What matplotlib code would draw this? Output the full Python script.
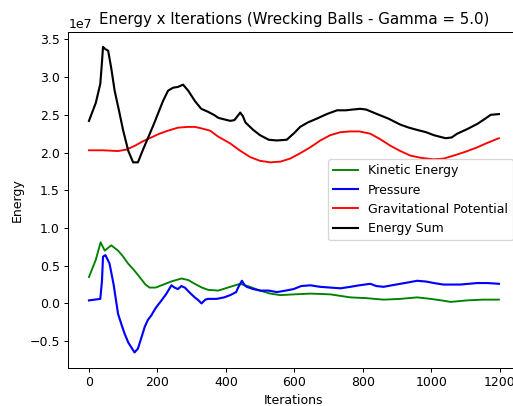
import matplotlib
matplotlib.use("Agg")
import matplotlib.pyplot as plt
import numpy as np

# Energy curves (units of 1e7) sampled at the listed iterations
kin_iter = [0, 20, 34, 46, 65, 85, 100, 114, 130, 148, 165, 177, 195, 212, 240, 270,
            290, 309, 330, 348, 378, 413, 442, 470, 500, 530, 559, 600, 647, 705,
            764, 810, 861, 910, 959, 998, 1030, 1057, 1105, 1150, 1198]
kin_val = [0.35, 0.58, 0.81, 0.70, 0.77, 0.70, 0.62, 0.53, 0.45, 0.35, 0.25, 0.21,
           0.21, 0.24, 0.29, 0.33, 0.31, 0.26, 0.21, 0.18, 0.17, 0.22, 0.26, 0.22,
           0.17, 0.13, 0.11, 0.12, 0.13, 0.12, 0.08, 0.07, 0.05, 0.06, 0.08, 0.06,
           0.04, 0.02, 0.04, 0.05, 0.05]

pres_iter = [0, 33, 38, 41, 48, 60, 72, 85, 95, 104, 115, 129, 133, 143, 150, 163,
             172, 182, 195, 212, 225, 241, 250, 260, 270, 280, 295, 309, 320, 329,
             340, 348, 373, 395, 413, 430, 437, 447, 455, 461, 480, 500, 525, 549,
             575, 598, 620, 647, 675, 705, 735, 764, 790, 822, 840, 861, 885, 910,
             935, 959, 985, 1008, 1035, 1057, 1085, 1110, 1135, 1165, 1198]
pres_val = [0.04, 0.06, 0.30, 0.62, 0.64, 0.53, 0.25, -0.14, -0.28, -0.40, -0.52,
            -0.62, -0.65, -0.60, -0.50, -0.31, -0.22, -0.16, -0.06, 0.04, 0.12,
            0.24, 0.21, 0.19, 0.23, 0.21, 0.14, 0.08, 0.04, 0.00, 0.05, 0.06, 0.06,
            0.08, 0.11, 0.15, 0.22, 0.30, 0.24, 0.22, 0.19, 0.17, 0.17, 0.15, 0.17,
            0.19, 0.23, 0.24, 0.22, 0.21, 0.20, 0.22, 0.24, 0.26, 0.23, 0.22, 0.24,
            0.26, 0.28, 0.30, 0.29, 0.27, 0.25, 0.25, 0.25, 0.26, 0.27, 0.27, 0.26]

grav_iter = [0, 40, 85, 110, 134, 158, 182, 206, 231, 260, 290, 310, 329, 354, 378,
             413, 440, 471, 500, 530, 560, 588, 617, 647, 676, 705, 735, 764, 790,
             822, 850, 881, 910, 939, 970, 1008, 1037, 1066, 1100, 1135, 1165, 1198]
grav_val = [2.03, 2.03, 2.02, 2.04, 2.09, 2.15, 2.20, 2.25, 2.29, 2.33, 2.34, 2.34,
            2.32, 2.29, 2.21, 2.12, 2.03, 1.94, 1.89, 1.87, 1.88, 1.92, 1.99, 2.07,
            2.16, 2.23, 2.27, 2.28, 2.28, 2.25, 2.18, 2.09, 2.02, 1.96, 1.93, 1.91,
            1.92, 1.96, 2.01, 2.07, 2.13, 2.19]

sum_iter = [0, 20, 33, 38, 41, 48, 56, 65, 75, 88, 100, 115, 129, 143, 158, 173,
            188, 202, 216, 231, 246, 260, 275, 290, 310, 328, 348, 365, 378, 395,
            413, 425, 437, 442, 450, 457, 480, 500, 525, 549, 578, 600, 617, 640,
            666, 695, 725, 750, 770, 793, 810, 842, 875, 910, 935, 959, 985, 1008,
            1042, 1060, 1076, 1105, 1135, 1155, 1174, 1198]
sum_val = [2.42, 2.66, 2.91, 3.20, 3.40, 3.37, 3.35, 3.12, 2.82, 2.55, 2.29, 2.02,
           1.87, 1.87, 2.04, 2.20, 2.36, 2.52, 2.68, 2.82, 2.86, 2.87, 2.90, 2.82,
           2.68, 2.58, 2.54, 2.50, 2.46, 2.44, 2.42, 2.43, 2.50, 2.53, 2.48, 2.40,
           2.30, 2.23, 2.17, 2.16, 2.17, 2.26, 2.34, 2.40, 2.45, 2.51, 2.56, 2.56,
           2.57, 2.58, 2.57, 2.51, 2.45, 2.37, 2.33, 2.30, 2.27, 2.23, 2.19, 2.20,
           2.25, 2.31, 2.38, 2.44, 2.50, 2.51]

scale = 1e7
dpi = 90

fig = plt.figure(figsize=(513 / dpi, 406 / dpi), dpi=dpi)
ax = fig.add_axes([0.1335, 0.0943, 0.879, 0.8277])

ax.plot(kin_iter, np.array(kin_val) * scale, color="g", lw=1.5, label="Kinetic Energy")
ax.plot(pres_iter, np.array(pres_val) * scale, color="b", lw=1.7, label="Pressure")
ax.plot(grav_iter, np.array(grav_val) * scale, color="r", lw=1.5, label="Gravitational Potential")
ax.plot(sum_iter, np.array(sum_val) * scale, color="k", lw=1.7, label="Energy Sum")

ax.set_title("Energy x Iterations (Wrecking Balls - Gamma = 5.0)")
ax.set_xlabel("Iterations")
ax.set_ylabel("Energy")
ax.legend(loc="center right")

fig.savefig("out.png", dpi=dpi)
